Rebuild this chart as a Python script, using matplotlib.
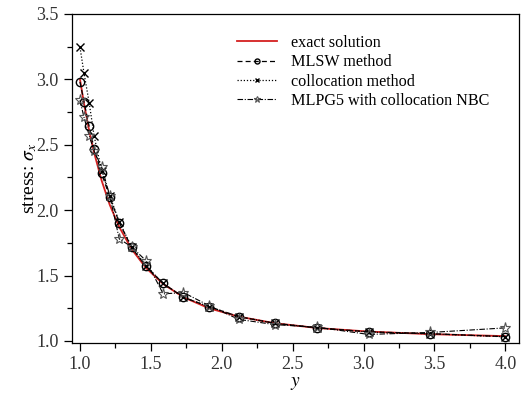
import numpy as np
import matplotlib
matplotlib.use('Agg')
import matplotlib.pyplot as plt
from matplotlib.ticker import MultipleLocator

plt.rcParams['font.family'] = ['Liberation Serif', 'DejaVu Serif']
plt.rcParams['mathtext.fontset'] = 'stix'

# nodes along y
y_nodes = [1.0, 1.028, 1.065, 1.10, 1.153, 1.21, 1.277, 1.364, 1.465, 1.587,
           1.73, 1.91, 2.12, 2.373, 2.674, 3.035, 3.47, 4.0]

exact = [3.0, 2.816, 2.607, 2.438, 2.225, 2.04, 1.871, 1.702, 1.559, 1.435,
         1.334, 1.25, 1.186, 1.136, 1.099, 1.072, 1.052, 1.037]
mlsw = [2.98, 2.83, 2.64, 2.47, 2.28, 2.10, 1.905, 1.716, 1.57, 1.44,
        1.334, 1.262, 1.186, 1.135, 1.10, 1.07, 1.056, 1.033]
colloc = [3.245, 3.05, 2.82, 2.565, 2.30, 2.11, 1.91, 1.72, 1.575, 1.44,
          1.334, 1.262, 1.186, 1.135, 1.10, 1.068, 1.055, 1.032]
mlpg5 = [2.84, 2.71, 2.57, 2.45, 2.33, 2.11, 1.78, 1.72, 1.614, 1.36,
         1.37, 1.27, 1.165, 1.125, 1.105, 1.05, 1.065, 1.10]

fig = plt.figure(figsize=(5.22, 3.96), dpi=100)
ax = fig.add_axes([0.138, 0.134, 0.856, 0.831])

ax.plot(y_nodes, exact, color='#d42020', lw=1.3, label='exact solution', zorder=2)
ax.plot(y_nodes, mlsw, color='black', ls=(0, (4, 2.5)), lw=0.9, marker='o', ms=6,
        mfc='none', mec='black', mew=1.0, label='MLSW method', zorder=3)
ax.plot(y_nodes, colloc, color='black', ls=(0, (1, 1.5)), lw=0.9, marker='x', ms=6,
        mew=1.0, label='collocation method', zorder=3)
ax.plot(y_nodes, mlpg5, color='black', ls=(0, (5, 1.5, 1, 1.5)), lw=0.8, marker='*', ms=8,
        mfc='none', mec='#555555', mew=0.8, label='MLPG5 with collocation NBC', zorder=3)

ax.set_xlim(0.944, 4.095)
ax.set_ylim(0.985, 3.5)
ax.xaxis.set_major_locator(MultipleLocator(0.5))
ax.xaxis.set_minor_locator(MultipleLocator(0.25))
ax.yaxis.set_major_locator(MultipleLocator(0.5))
ax.yaxis.set_minor_locator(MultipleLocator(0.25))
ax.xaxis.set_major_formatter(matplotlib.ticker.FormatStrFormatter('%.1f'))
ax.yaxis.set_major_formatter(matplotlib.ticker.FormatStrFormatter('%.1f'))
ax.tick_params(which='major', direction='out', length=6, width=0.9, labelsize=13,
               labelcolor='#333333')
ax.tick_params(which='minor', direction='out', length=3.5, width=0.9)
for s in ax.spines.values():
    s.set_linewidth(0.9)

ax.set_xlabel('$y$', fontsize=14, labelpad=1)
ax.set_ylabel(r'stress: $\sigma_x$', fontsize=14, labelpad=-2)

leg = ax.legend(loc='upper left', bbox_to_anchor=(0.354, 0.955), frameon=False,
                fontsize=11.6, handlelength=2.5, handletextpad=0.87,
                labelspacing=0.2, markerscale=0.6, borderaxespad=0)

fig.savefig('out.png', dpi=100)
